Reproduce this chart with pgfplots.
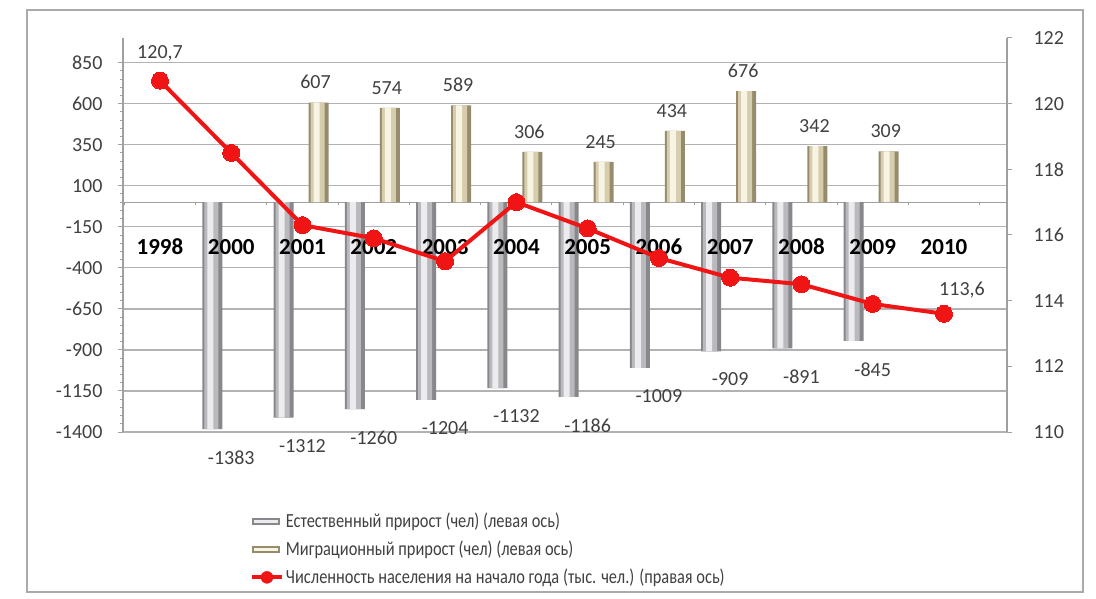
\documentclass[border=0pt]{standalone}
\usepackage{fontspec}
\setmainfont{Carlito}
\newfontfamily\legfont[FakeStretch=0.82]{Carlito}
\usepackage{pgfplots}
\usepackage{pgfplotstable}
\pgfplotsset{compat=1.18}

\definecolor{framegray}{RGB}{170,170,170}
\definecolor{axisgray}{RGB}{160,160,160}
\definecolor{gridgray}{RGB}{178,178,178}
\definecolor{txt}{RGB}{64,64,64}
\definecolor{gb1}{RGB}{135,135,140}
\definecolor{gb2}{RGB}{185,185,190}
\definecolor{gb3}{RGB}{236,236,238}
\definecolor{mb1}{RGB}{150,140,108}
\definecolor{mb2}{RGB}{214,205,175}
\definecolor{mb3}{RGB}{248,244,228}
\definecolor{popred}{RGB}{240,20,20}

% natural growth, persons (index 1 = 2000)
\pgfplotstableread{
x  y
1  -1383
2  -1312
3  -1260
4  -1204
5  -1132
6  -1186
7  -1009
8  -909
9  -891
10 -845
}\natgrowth
% migration growth, persons
\pgfplotstableread{
x  y
2  607
3  574
4  589
5  306
6  245
7  434
8  676
9  342
10 309
}\miggrowth
% population at start of year, thousand
\pgfplotstableread{
x  y
0  120.7
1  118.5
2  116.3
3  115.9
4  115.2
5  117.0
6  116.2
7  115.3
8  114.7
9  114.5
10 113.9
11 113.6
}\popul

\begin{document}
\begin{tikzpicture}[x=1pt,y=1pt]
\path[use as bounding box] (0,0) rectangle (1096,598);
\draw[framegray, line width=1.5pt] (27,6) rectangle (1083,588);

% left axis: natural and migration growth
\begin{axis}[
    at={(123pt,166pt)}, anchor=south west,
    scale only axis, width=884pt, height=394pt,
    xmin=-0.519, xmax=11.884,
    ymin=-1400, ymax=1000,
    axis y line*=left, axis x line*=middle,
    axis line style={axisgray, line width=1.2pt, -},
    ytick={-1400,-1150,...,850},
    minor y tick num=4,
    ymajorgrids=true,
    major grid style={gridgray, line width=1.3pt},
    ytick style={axisgray, line width=1pt},
    minor y tick style={axisgray},
    tick align=outside,
    major tick length=5pt, minor tick length=3pt,
    xtick={0,...,11},
    xticklabels={},
    xtick style={draw=none},
    minor xtick={-0.5,0.5,...,11.5},
    minor x tick style={axisgray, line width=1pt, draw=axisgray},
    yticklabel style={font=\fontsize{20}{24}\selectfont, text=txt, xshift=-12pt},
    /pgf/number format/1000 sep={},
    /pgf/number format/assume math mode=true,
    legend style={at={(0.14,-0.195)}, anchor=north west, draw=none, fill=none,
        font=\legfont\fontsize{20}{23}\selectfont, text=txt,
        cells={anchor=west}, row sep=8pt},
    legend cell align=left,
]
\addplot[ybar, bar width=20pt, bar shift=-19pt, draw=none, fill=gb1,
    nodes near coords,
    nodes near coords style={anchor=north, yshift=-18pt, text=txt,
        font=\fontsize{20}{24}\selectfont,
        /pgf/number format/assume math mode=true},
    legend image code/.code={\fill[gb1] (0pt,-3.5pt) rectangle (28pt,3.5pt);
        \fill[gb3] (2pt,-1.5pt) rectangle (26pt,1.5pt);}]
    table[x=x, y=y] {\natgrowth};
\addplot[ybar, bar width=14pt, bar shift=-20pt, draw=none, fill=gb2, forget plot]
    table[x=x, y=y] {\natgrowth};
\addplot[ybar, bar width=6pt, bar shift=-21pt, draw=none, fill=gb3, forget plot]
    table[x=x, y=y] {\natgrowth};
\addplot[ybar, bar width=20pt, bar shift=16pt, draw=none, fill=mb1,
    nodes near coords,
    nodes near coords style={anchor=south, yshift=10pt, xshift=13pt, text=txt,
        font=\fontsize{20}{24}\selectfont,
        /pgf/number format/assume math mode=true},
    legend image code/.code={\fill[mb1] (0pt,-3.5pt) rectangle (28pt,3.5pt);
        \fill[mb3] (2pt,-1.5pt) rectangle (26pt,1.5pt);}]
    table[x=x, y=y] {\miggrowth};
\addplot[ybar, bar width=14pt, bar shift=15pt, draw=none, fill=mb2, forget plot]
    table[x=x, y=y] {\miggrowth};
\addplot[ybar, bar width=6pt, bar shift=14pt, draw=none, fill=mb3, forget plot]
    table[x=x, y=y] {\miggrowth};
\addlegendimage{legend image code/.code={\draw[popred, line width=4pt] (0pt,0pt) -- (30pt,0pt); \fill[popred] (15pt,0pt) circle (6pt);}}
\legend{Естественный прирост (чел) (левая ось),
        Миграционный прирост (чел) (левая ось),
        Численность населения на начало года (тыс. чел.) (правая ось)}
\end{axis}

% right axis: population; also carries the year labels so they lie over the bars
\begin{axis}[
    at={(123pt,166pt)}, anchor=south west,
    scale only axis, width=884pt, height=394pt,
    xmin=-0.519, xmax=11.884,
    ymin=110, ymax=122,
    axis y line*=right, axis x line*=bottom,
    axis line style={axisgray, line width=1.2pt, -},
    x axis line style={draw=none},
    xtick={0,...,11},
    xticklabels={1998,2000,2001,2002,2003,2004,2005,2006,2007,2008,2009,2010},
    xtick style={draw=none},
    xticklabel style={font=\bfseries\fontsize{23}{27}\selectfont, text=black,
        anchor=center, yshift=190pt},
    ytick={110,112,...,122},
    ytick style={axisgray, line width=1pt},
    tick align=outside, major tick length=5pt,
    yticklabel style={font=\fontsize{20}{24}\selectfont, text=txt, xshift=18pt},
    /pgf/number format/assume math mode=true,
]
\addplot[popred, line width=4pt, mark=*, mark size=8.5pt,
    mark options={fill=popred, draw=popred, line width=0pt}]
    table[x=x, y=y] {\popul};
\addplot[draw=none, mark=none, point meta=explicit symbolic,
    nodes near coords,
    nodes near coords style={anchor=south, yshift=16pt, text=txt,
        font=\fontsize{20}{24}\selectfont}]
    coordinates {(0,120.7) [120{,}7]};
\addplot[draw=none, mark=none, point meta=explicit symbolic,
    nodes near coords,
    nodes near coords style={anchor=south, yshift=12pt, xshift=18pt, text=txt,
        font=\fontsize{20}{24}\selectfont}]
    coordinates {(11,113.6) [113{,}6]};
\end{axis}
\end{tikzpicture}
\end{document}
